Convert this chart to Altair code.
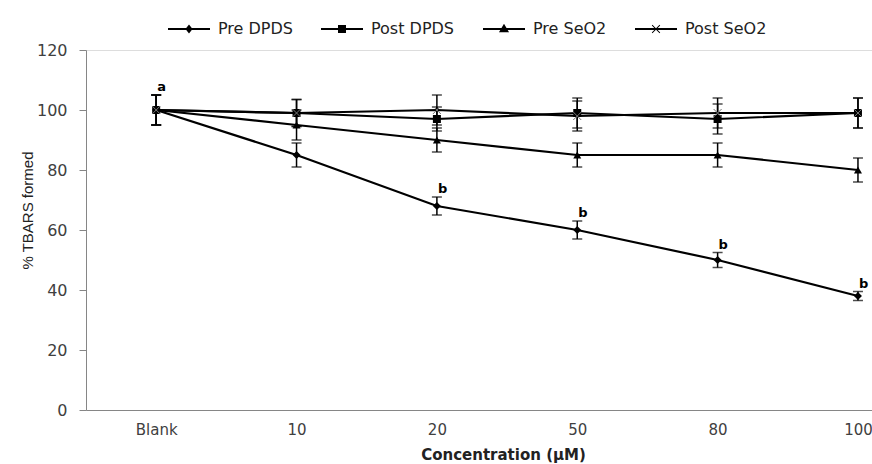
import altair as alt
import pandas as pd

categories = ["Blank", "10", "20", "50", "80", "100"]
series_names = ["Pre DPDS", "Post DPDS", "Pre SeO2", "Post SeO2"]

pre_dpds = [100, 85, 68, 60, 50, 38]
pre_dpds_err = [5, 4, 3, 3, 2.5, 1.5]
post_dpds = [100, 99, 97, 99, 97, 99]
post_dpds_err = [5, 4.5, 4, 5, 5, 5]
pre_seo2 = [100, 95, 90, 85, 85, 80]
pre_seo2_err = [5, 5, 4, 4, 4, 4]
post_seo2 = [100, 99, 100, 98, 99, 99]
post_seo2_err = [5, 4.5, 5, 5, 5, 5]
letters = ["a", "", "b", "b", "b", "b"]

values = [pre_dpds, post_dpds, pre_seo2, post_seo2]
errors = [pre_dpds_err, post_dpds_err, pre_seo2_err, post_seo2_err]

rows = []
for s, vals, errs in zip(series_names, values, errors):
    for i, (v, e) in enumerate(zip(vals, errs)):
        rows.append({"series": s, "idx": i, "cat": categories[i], "value": v,
                     "lo": v - e, "hi": v + e})
df = pd.DataFrame(rows)

lab_rows = []
for i, t in enumerate(letters):
    if t:
        lab_rows.append({"idx": i, "ypos": pre_dpds[i] + pre_dpds_err[i], "txt": t})
lab_df = pd.DataFrame(lab_rows)

label_expr = "[" + ",".join("'%s'" % c for c in categories) + "][datum.value]"

x_enc = alt.X(
    "idx:Q",
    scale=alt.Scale(domain=[-0.5, 5.1], nice=False, zero=False),
    axis=alt.Axis(values=list(range(len(categories))), labelExpr=label_expr,
                  ticks=False, grid=False, domainColor="#868686",
                  labelFont="DejaVu Sans", labelFontSize=15, labelColor="#404040",
                  labelPadding=12, title="Concentration (µM)",
                  titleFont="DejaVu Sans", titleFontSize=15, titleFontWeight="bold",
                  titleColor="#222222", titleX=417, titleY=44, titleAlign="center",
                  titleBaseline="middle"),
)
y_axis = alt.Axis(values=[0, 20, 40, 60, 80, 100, 120], grid=False, tickSize=7,
                  tickColor="#868686", domainColor="#868686", labelPadding=12,
                  labelFont="DejaVu Sans", labelFontSize=16, labelColor="#404040",
                  title="% TBARS formed",
                  titleFont="Liberation Sans Narrow, Liberation Sans",
                  titleFontSize=15, titleFontWeight="normal", titleColor="#222222",
                  titleX=-59, titleY=160, titleAngle=-90, titleAlign="center",
                  titleBaseline="middle")
y_scale = alt.Scale(domain=[0, 120], nice=False)

def yq(field):
    return alt.Y(field + ":Q", scale=y_scale, axis=y_axis, title="% TBARS formed")

lines = alt.Chart(df).mark_line(color="black", strokeWidth=2.2).encode(
    x=x_enc, y=yq("value"), detail="series:N", order="idx:Q"
)

err = alt.Chart(df).mark_errorbar(
    color="black",
    ticks={"size": 10, "thickness": 1.5, "color": "black"},
    rule={"strokeWidth": 1.5, "color": "black"},
).encode(x=x_enc, y=yq("lo"), y2="hi:Q")

filled_series = series_names[:3]
pts = alt.Chart(df).transform_filter(
    alt.FieldOneOfPredicate(field="series", oneOf=filled_series)
).mark_point(filled=True, color="black", opacity=1, size=64).encode(
    x=x_enc, y=yq("value"),
    shape=alt.Shape("series:N", scale=alt.Scale(domain=filled_series,
                    range=["diamond", "square", "triangle-up"]), legend=None),
)

xpts = alt.Chart(df).transform_filter(
    alt.FieldEqualPredicate(field="series", equal=series_names[3])
).mark_point(shape="M-1,-1L1,1M-1,1L1,-1", filled=False, stroke="#777777",
             strokeWidth=1, size=64, opacity=1).encode(x=x_enc, y=yq("value"))

line_bar = "M-1,-0.05H1V0.05H-1Z"
legend_paths = [
    line_bar + "M0,-0.22L0.17,0L0,0.22L-0.17,0Z",
    line_bar + "M-0.19,-0.19H0.19V0.19H-0.19Z",
    line_bar + "M0,-0.25L0.24,0.16H-0.24Z",
    line_bar + "M-0.2,-0.17L-0.17,-0.2L0.2,0.17L0.17,0.2Z"
             + "M0.17,-0.2L0.2,-0.17L-0.17,0.2L-0.2,0.17Z",
]

legend_layer = alt.Chart(df).transform_filter("false").mark_point(
    filled=True, color="black", size=1764, opacity=1
).encode(
    x=x_enc, y=yq("value"),
    shape=alt.Shape("series:N", scale=alt.Scale(domain=series_names, range=legend_paths),
                    legend=alt.Legend(title=None, orient="none", legendX=82, legendY=-42,
                                      direction="horizontal", columns=4,
                                      symbolSize=1764, labelFont="DejaVu Sans",
                                      labelFontSize=16, labelColor="#222222",
                                      labelOffset=8, columnPadding=28,
                                      symbolFillColor="black", symbolStrokeWidth=0)),
)

texts = alt.Chart(lab_df).mark_text(
    font="DejaVu Sans", fontSize=13, fontWeight="bold", color="black",
    align="left", baseline="bottom", dx=1, dy=-1
).encode(x=x_enc, y=yq("ypos"), text="txt:N")

chart = alt.layer(lines, err, pts, xpts, texts, legend_layer).resolve_scale(
    shape="independent"
).properties(
    width=786, height=360,
    padding={"left": 86, "top": 50, "right": 0, "bottom": 54},
    autosize="none",
).configure_view(stroke=None).configure(background="white")

chart.save("out.html", embed_options={"renderer": "svg", "actions": False})
